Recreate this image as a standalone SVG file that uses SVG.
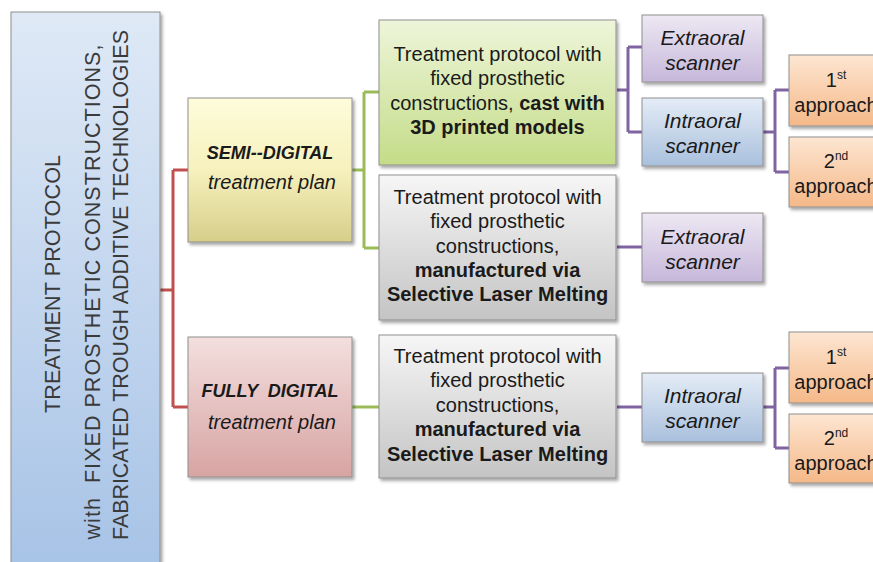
<svg xmlns="http://www.w3.org/2000/svg" width="873" height="562" viewBox="0 0 873 562">
<defs>
  <linearGradient id="gMain" x1="0" y1="0" x2="0" y2="1"><stop offset="0" stop-color="#dfe9f6"/><stop offset="1" stop-color="#a6c2e6"/></linearGradient>
  <linearGradient id="gYel" x1="0" y1="0" x2="0" y2="1"><stop offset="0" stop-color="#fefcdb"/><stop offset="0.5" stop-color="#f6f1bd"/><stop offset="1" stop-color="#d6ce8a"/></linearGradient>
  <linearGradient id="gPink" x1="0" y1="0" x2="0" y2="1"><stop offset="0" stop-color="#f3dfde"/><stop offset="1" stop-color="#d7a4a3"/></linearGradient>
  <linearGradient id="gGreen" x1="0" y1="0" x2="0" y2="1"><stop offset="0" stop-color="#eef5da"/><stop offset="1" stop-color="#c4dc88"/></linearGradient>
  <linearGradient id="gGray" x1="0" y1="0" x2="0" y2="1"><stop offset="0" stop-color="#f6f6f6"/><stop offset="1" stop-color="#c4c4c4"/></linearGradient>
  <linearGradient id="gLav" x1="0" y1="0" x2="0" y2="1"><stop offset="0" stop-color="#ede8f3"/><stop offset="1" stop-color="#c6b7da"/></linearGradient>
  <linearGradient id="gBlue" x1="0" y1="0" x2="0" y2="1"><stop offset="0" stop-color="#e4ecf6"/><stop offset="1" stop-color="#a9c0dd"/></linearGradient>
  <linearGradient id="gOra" x1="0" y1="0" x2="0" y2="1"><stop offset="0" stop-color="#fde6d2"/><stop offset="1" stop-color="#f5b888"/></linearGradient>
  <filter id="sh" x="-10%" y="-10%" width="130%" height="130%">
    <feDropShadow dx="2" dy="2.5" stdDeviation="1.5" flood-color="#000" flood-opacity="0.35"/>
  </filter>
</defs>
<style>
  .box { stroke: #8f8f8f; stroke-width: 1; filter: url(#sh); }
  text { font-family: "Liberation Sans", Arial, sans-serif; fill: #1a1a1a; text-anchor: middle; }
  .main { font-size: 21.5px; fill: #3a3a3a; }
  .plan { font-size: 18px; font-weight: bold; font-style: italic; }
  .planit { font-size: 20px; font-style: italic; }
  .prot { font-size: 20px; }
  .b { font-weight: bold; }
  .scan { font-size: 21px; font-style: italic; }
  .appr { font-size: 20px; }
  .sup { font-size: 12px; }
  .red { fill: none; stroke: #c0504d; stroke-width: 3; }
  .grn { fill: none; stroke: #9bbb59; stroke-width: 3; }
  .pur { fill: none; stroke: #8064a2; stroke-width: 3; }
</style>
<rect width="873" height="562" fill="#ffffff"/>

<g id="connectors">
  <path class="red" d="M160,290 H173 M173,170 V407 M173,170 H188 M173,407 H188"/>
  <path class="grn" d="M352,170 H364 M364,92 V248 M364,92 H379 M364,248 H379 M352,407 H379"/>
  <path class="pur" d="M617,90 H628 M628,47 V132 M628,47 H642 M628,132 H642 M763,132 H775 M775,90 V172 M775,90 H789 M775,172 H789 M617,247 H642 M617,407 H642 M763,407 H775 M775,368 V448 M775,368 H789 M775,448 H789"/>
</g>

<g id="main">
  <rect class="box" x="11" y="12" width="149" height="570" fill="url(#gMain)"/>
  <text class="main" transform="translate(60,284) rotate(-90)" textLength="258">TREATMENT PROTOCOL</text>
  <text class="main" transform="translate(100,292) rotate(-90)" textLength="495" xml:space="preserve">with  FIXED PROSTHETIC CONSTRUCTIONS,</text>
  <text class="main" transform="translate(128,285) rotate(-90)" textLength="510">FABRICATED TROUGH ADDITIVE TECHNOLOGIES</text>
</g>

<g id="semi">
  <rect class="box" x="188" y="98" width="164" height="144" fill="url(#gYel)"/>
  <text class="plan" x="270" y="159">SEMI--DIGITAL</text>
  <text class="planit" x="272" y="189">treatment plan</text>
</g>

<g id="fully">
  <rect class="box" x="188" y="337" width="164" height="140" fill="url(#gPink)"/>
  <text class="plan" x="270" y="397" xml:space="preserve">FULLY  DIGITAL</text>
  <text class="planit" x="272" y="429">treatment plan</text>
</g>

<g id="cast">
  <rect class="box" x="379" y="20" width="237" height="145" fill="url(#gGreen)"/>
  <text class="prot" x="497.5" y="61">Treatment protocol with</text>
  <text class="prot" x="497.5" y="85">fixed prosthetic</text>
  <text class="prot" x="497.5" y="110">constructions, <tspan class="b">cast with</tspan></text>
  <text class="prot b" x="497.5" y="134">3D printed models</text>
</g>

<g id="slm1">
  <rect class="box" x="379" y="175" width="237" height="145" fill="url(#gGray)"/>
  <text class="prot" x="497.5" y="204">Treatment protocol with</text>
  <text class="prot" x="497.5" y="228">fixed prosthetic</text>
  <text class="prot" x="497.5" y="253">constructions,</text>
  <text class="prot b" x="497.5" y="277">manufactured via</text>
  <text class="prot b" x="497.5" y="301">Selective Laser Melting</text>
</g>

<g id="slm2">
  <rect class="box" x="379" y="335" width="237" height="143" fill="url(#gGray)"/>
  <text class="prot" x="497.5" y="363">Treatment protocol with</text>
  <text class="prot" x="497.5" y="387">fixed prosthetic</text>
  <text class="prot" x="497.5" y="412">constructions,</text>
  <text class="prot b" x="497.5" y="436">manufactured via</text>
  <text class="prot b" x="497.5" y="461">Selective Laser Melting</text>
</g>

<g id="extra1">
  <rect class="box" x="642" y="15" width="121" height="67" fill="url(#gLav)"/>
  <text class="scan" x="702.5" y="45">Extraoral</text>
  <text class="scan" x="702.5" y="70">scanner</text>
</g>

<g id="intra1">
  <rect class="box" x="642" y="98" width="121" height="68" fill="url(#gBlue)"/>
  <text class="scan" x="702.5" y="128">Intraoral</text>
  <text class="scan" x="702.5" y="153">scanner</text>
</g>

<g id="extra2">
  <rect class="box" x="642" y="213" width="121" height="69" fill="url(#gLav)"/>
  <text class="scan" x="702.5" y="244">Extraoral</text>
  <text class="scan" x="702.5" y="269">scanner</text>
</g>

<g id="intra2">
  <rect class="box" x="642" y="373" width="121" height="69" fill="url(#gBlue)"/>
  <text class="scan" x="702.5" y="403">Intraoral</text>
  <text class="scan" x="702.5" y="428">scanner</text>
</g>

<g id="appr1a">
  <rect class="box" x="789" y="55" width="95" height="71" fill="url(#gOra)"/>
  <text class="appr" x="836" y="87">1<tspan class="sup" dy="-8">st</tspan></text>
  <text class="appr" x="836" y="112">approach</text>
</g>

<g id="appr2a">
  <rect class="box" x="789" y="137" width="95" height="70" fill="url(#gOra)"/>
  <text class="appr" x="836" y="168">2<tspan class="sup" dy="-8">nd</tspan></text>
  <text class="appr" x="836" y="193">approach</text>
</g>

<g id="appr1b">
  <rect class="box" x="789" y="332" width="95" height="71" fill="url(#gOra)"/>
  <text class="appr" x="836" y="364">1<tspan class="sup" dy="-8">st</tspan></text>
  <text class="appr" x="836" y="389">approach</text>
</g>

<g id="appr2b">
  <rect class="box" x="789" y="414" width="95" height="69" fill="url(#gOra)"/>
  <text class="appr" x="836" y="445">2<tspan class="sup" dy="-8">nd</tspan></text>
  <text class="appr" x="836" y="470">approach</text>
</g>
</svg>
